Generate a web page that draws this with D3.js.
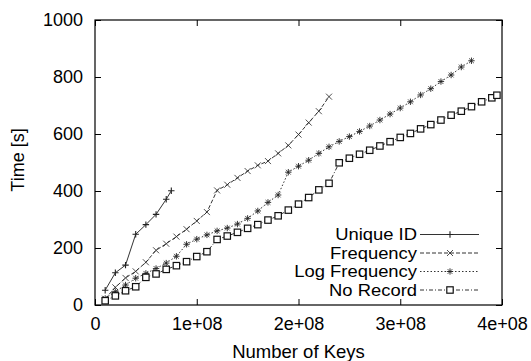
<!DOCTYPE html>
<html><head><meta charset="utf-8">
<script src="https://cdn.jsdelivr.net/npm/d3@7"></script>
<style>body{margin:0;background:#fff}svg{display:block}text{font-family:"Liberation Sans",Arial,sans-serif;fill:#000}</style>
</head><body><svg id="c" width="531" height="361"></svg>
<script>
const xTicks = [0, 1e8, 2e8, 3e8, 4e8];
const xTickLabels = ["0", "1e+08", "2e+08", "3e+08", "4e+08"];
const yTicks = [0, 200, 400, 600, 800, 1000];
const seriesNames = ["Unique ID", "Frequency", "Log Frequency", "No Record"];

const uniqueX = [1e7, 2e7, 3e7, 4e7, 5e7, 6e7, 7e7, 7.5e7];
const uniqueY = [52, 113, 140, 248, 282, 318, 371, 401];

const freqX = [1e7,2e7,3e7,4e7,5e7,6e7,7e7,8e7,9e7,10e7,11e7,12e7,13e7,14e7,15e7,16e7,17e7,18e7,19e7,20e7,21e7,22e7,23e7];
const freqY = [22, 62, 95, 118, 150, 192, 215, 240, 266, 295, 326, 402, 422, 446, 470, 490, 505, 532, 560, 598, 640, 680, 731];

const logX = [1e7,2e7,3e7,4e7,5e7,6e7,7e7,8e7,9e7,10e7,11e7,12e7,13e7,14e7,15e7,16e7,17e7,18e7,19e7,20e7,21e7,22e7,23e7,24e7,25e7,26e7,27e7,28e7,29e7,30e7,31e7,32e7,33e7,34e7,35e7,36e7,37e7];
const logY = [23, 47, 70, 94, 111, 128, 147, 171, 213, 231, 246, 260, 270, 284, 304, 330, 360, 386, 466, 487, 508, 532, 555, 574, 591, 609, 628, 649, 670, 691, 713, 737, 759, 784, 807, 835, 857];

const noRecX = [1e7,2e7,3e7,4e7,5e7,6e7,7e7,8e7,9e7,10e7,11e7,12e7,13e7,14e7,15e7,16e7,17e7,18e7,19e7,20e7,21e7,22e7,23e7,24e7,25e7,26e7,27e7,28e7,29e7,30e7,31e7,32e7,33e7,34e7,35e7,36e7,37e7,38e7,39e7,39.5e7];
const noRecY = [15, 32, 50, 64, 97, 109, 125, 138, 152, 170, 187, 230, 242, 255, 269, 282, 298, 313, 333, 354, 377, 404, 427, 499, 515, 529, 543, 558, 573, 588, 602, 618, 633, 649, 666, 680, 696, 713, 727, 736];

const svg = d3.select("#c");
const L = 95, R = 502, T = 20, B = 305;
const FONT = "Liberation Sans, Arial, sans-serif";
const x = d3.scaleLinear().domain([0, 4e8]).range([L, R]);
const y = d3.scaleLinear().domain([0, 1000]).range([B, T]);

const ax = d3.axisBottom(x).tickValues(xTicks).tickSize(-6).tickPadding(12).tickFormat((d,i)=>xTickLabels[i]);
svg.append("g").attr("transform",`translate(0,${B})`).call(ax)
  .call(g=>{g.select(".domain").remove(); g.selectAll("text").attr("font-size",18).attr("font-family",FONT);});
svg.append("g").attr("transform",`translate(0,${T})`).call(d3.axisTop(x).tickValues(xTicks).tickSize(-6).tickFormat(""))
  .call(g=>g.select(".domain").remove());
svg.append("g").attr("transform",`translate(${L},0)`).call(d3.axisLeft(y).tickValues(yTicks).tickSize(-6).tickPadding(12).tickFormat(d3.format("d")))
  .call(g=>{g.select(".domain").remove(); g.selectAll("text").attr("font-size",18).attr("font-family",FONT);});
svg.append("g").attr("transform",`translate(${R},0)`).call(d3.axisRight(y).tickValues(yTicks).tickSize(-6).tickFormat(""))
  .call(g=>g.select(".domain").remove());
svg.selectAll(".tick line").attr("stroke","#000");

svg.append("rect").attr("x",L).attr("y",T).attr("width",R-L).attr("height",B-T)
  .attr("fill","none").attr("stroke","#000").attr("stroke-width",1.2);

svg.append("text").attr("x",(L+R)/2).attr("y",358).attr("text-anchor","middle").attr("font-size",18.5).text("Number of Keys");
svg.append("text").attr("transform","translate(24,160) rotate(-90)").attr("text-anchor","middle").attr("font-size",18).text("Time [s]");

const styles = [
  {dash:null, marker:"plus"},
  {dash:"4,2", marker:"cross"},
  {dash:"1.5,2", marker:"star"},
  {dash:"4,2,1,2", marker:"square"}
];
const data = [
  uniqueX.map((v,i)=>[v,uniqueY[i]]),
  freqX.map((v,i)=>[v,freqY[i]]),
  logX.map((v,i)=>[v,logY[i]]),
  noRecX.map((v,i)=>[v,noRecY[i]])
];
function drawMarker(g, type, cx, cy){
  const s = 3.2;
  if(type==="plus"||type==="star"){
    g.append("path").attr("d",`M${cx-s},${cy}H${cx+s}M${cx},${cy-s}V${cy+s}`).attr("stroke","#222").attr("stroke-width",type==="star"?0.9:1.1);
  }
  if(type==="cross"||type==="star"){
    const t = type==="star"?2.4:3;
    g.append("path").attr("d",`M${cx-t},${cy-t}L${cx+t},${cy+t}M${cx-t},${cy+t}L${cx+t},${cy-t}`).attr("stroke","#222").attr("stroke-width",0.8);
  }
  if(type==="square"){
    g.append("rect").attr("x",cx-3.2).attr("y",cy-3.2).attr("width",6.4).attr("height",6.4).attr("fill","#fff").attr("stroke","#111").attr("stroke-width",1.2);
  }
}
const line = d3.line().x(d=>x(d[0])).y(d=>y(d[1]));
data.forEach((d,k)=>{
  const g = svg.append("g");
  g.append("path").attr("d",line(d)).attr("fill","none").attr("stroke","#333").attr("stroke-width",1)
    .attr("stroke-dasharray",styles[k].dash);
  d.forEach(p=>drawMarker(g, styles[k].marker, x(p[0]), y(p[1])));
});

const legY = [234.5, 253, 271.5, 290];
seriesNames.forEach((n,i)=>{
  const g = svg.append("g");
  g.append("text").attr("transform",`translate(417,${legY[i]}) scale(1.15,1)`).attr("dy","0.36em").attr("text-anchor","end").attr("font-size",16).text(n);
  g.append("path").attr("d",`M420,${legY[i]}H479`).attr("stroke","#333").attr("stroke-width",1).attr("stroke-dasharray",styles[i].dash);
  drawMarker(g, styles[i].marker, 450, legY[i]);
});
</script></body></html>
